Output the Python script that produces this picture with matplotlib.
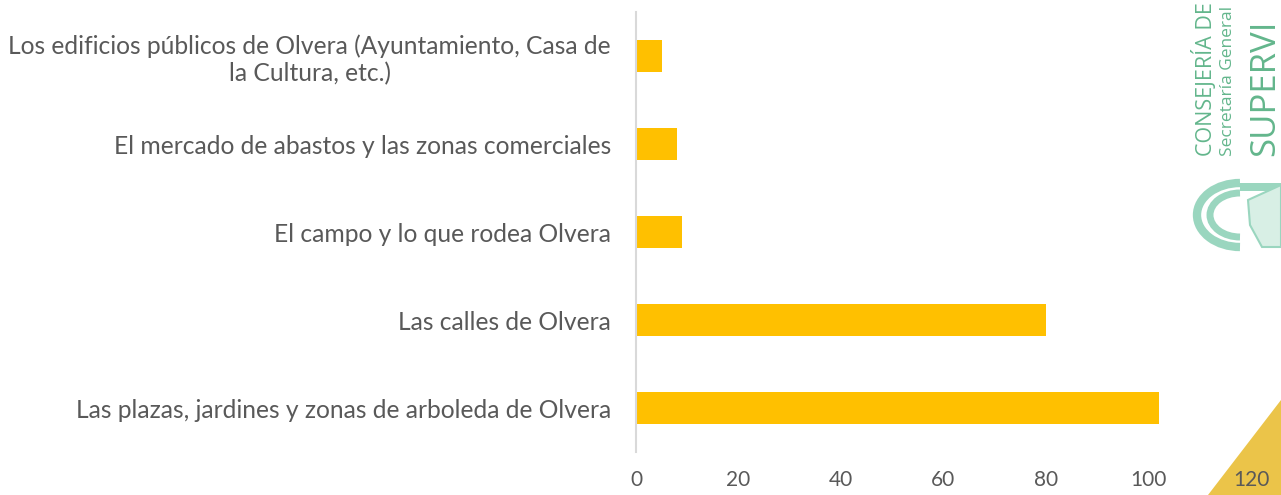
import matplotlib.pyplot as plt
from matplotlib.patches import Polygon, Arc, Rectangle

# categories from bottom to top
categories = [
    "Las plazas, jardines y zonas de arboleda de Olvera",
    "Las calles de Olvera",
    "El campo y lo que rodea Olvera",
    "El mercado de abastos y las zonas comerciales",
    "Los edificios públicos de Olvera (Ayuntamiento, Casa de\nla Cultura, etc.)",
]
values = [102, 80, 9, 8, 5]
xticks = [0, 20, 40, 60, 80, 100, 120]

W, H = 1281, 495
fig = plt.figure(figsize=(W / 100, H / 100), dpi=100)
plt.rcParams['font.family'] = ['Lato', 'DejaVu Sans']

# decorative overlay in pixel coords (behind the chart)
deco = fig.add_axes([0, 0, 1, 1], zorder=0)
deco.set_xlim(0, W)
deco.set_ylim(H, 0)
deco.axis('off')
deco.add_patch(Polygon([[1208, 495], [1281, 495], [1281, 400]], closed=True,
                       facecolor='#EBC449', edgecolor='none'))
green = '#63B68C'
deco.text(1205, 156, "CONSEJERÍA DE", rotation=90, color=green, fontsize=15.5,
          ha='center', va='bottom', family='Open Sans')
deco.text(1228, 156, "Secretaría General", rotation=90, color=green, fontsize=12.5,
          ha='center', va='bottom', family='Open Sans')
deco.text(1265, 156, "SUPERVI", rotation=90, color=green, fontsize=25,
          ha='center', va='bottom', family='Open Sans')
lg = '#9AD6BF'
deco.add_patch(Arc((1240, 215), 86, 64, theta1=90, theta2=270, color=lg, lw=6))
deco.add_patch(Arc((1240, 215), 60, 44, theta1=90, theta2=270, color=lg, lw=5))
deco.add_patch(Rectangle((1240, 183), 41, 8, color=lg, lw=0))
deco.add_patch(Polygon([[1248, 200], [1281, 185], [1281, 247], [1262, 247], [1250, 225]],
                       closed=True, facecolor='#D8EFE5', edgecolor=lg, lw=1.5))

ax = fig.add_axes([636 / W, 1 - 452 / H, (1251 - 636) / W, (452 - 12) / H], zorder=1)
ax.patch.set_alpha(0)
ax.barh(range(len(categories)), values, height=0.355, color='#FFC000')
ax.set_xlim(0, 120)
ax.set_ylim(-0.5, len(categories) - 0.5)
ax.set_xticks(xticks)
ax.set_yticks(range(len(categories)))
ax.set_yticklabels(categories, ha='right', multialignment='center')
ax.tick_params(axis='both', length=0, labelcolor='#595959')
ax.tick_params(axis='y', pad=18, labelsize=17.7)
ax.tick_params(axis='x', pad=13, labelsize=15)
for s in ['top', 'right', 'bottom']:
    ax.spines[s].set_visible(False)
ax.spines['left'].set_color('#D9D9D9')
ax.spines['left'].set_linewidth(1.5)

fig.savefig('out.png', dpi=100)
